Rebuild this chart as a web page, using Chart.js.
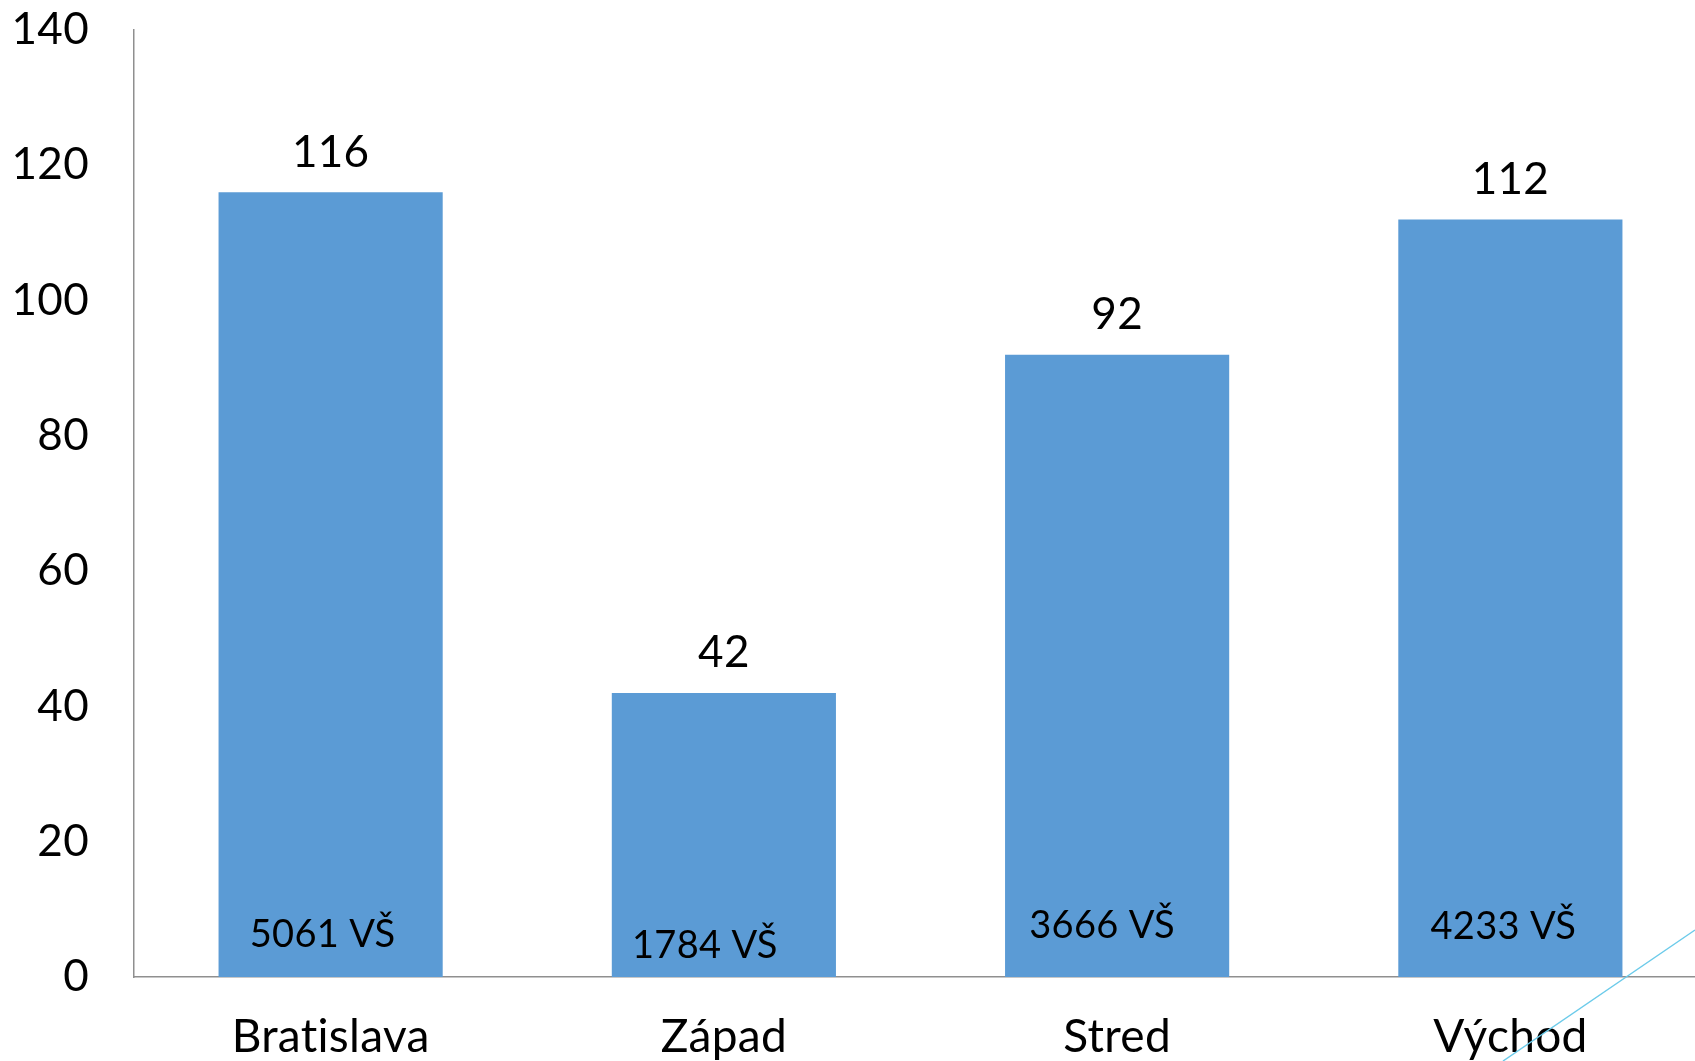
<!DOCTYPE html>
<html>
<head>
<meta charset="utf-8">
<script src="https://cdn.jsdelivr.net/npm/chart.js@4/dist/chart.umd.min.js"></script>
<style>
html, body { margin: 0; padding: 0; background: #fff; overflow: hidden; }
canvas { display: block; }
</style>
</head>
<body>
<canvas id="regionChart" width="1712" height="1061"></canvas>
<script>
let regionNames = ["Bratislava", "Západ", "Stred", "Východ"];
let schoolCounts = [116, 42, 92, 112];
let studentLabels = ["5061 VŠ", "1784 VŠ", "3666 VŠ", "4233 VŠ"];
let axisTicks = [0, 20, 40, 60, 80, 100, 120, 140];

// hand placed text boxes in the original slide: [dx, height above axis]
let innerNudge = [[-8, 42], [-19, 31], [-15, 51], [-7, 50]];

const barText = {
    id: "barText",
    beforeDraw(chart){
        // keep "ti" from turning into a ligature
        chart.ctx.letterSpacing = "0.3px";
    },
    afterDatasetsDraw(chart){
        const ctx = chart.ctx;
        const meta = chart.getDatasetMeta(0);
        const zeroY = chart.scales.y.getPixelForValue(0);
        ctx.save();
        ctx.fillStyle = "#000";
        ctx.textAlign = "center";
        ctx.textBaseline = "middle";
        meta.data.forEach((bar, i) => {
            ctx.font = "44px Lato";
            ctx.fillText(String(schoolCounts[i]), bar.x, bar.y - 40);
            ctx.font = "38px Lato";
            ctx.fillText(studentLabels[i], bar.x + innerNudge[i][0], zeroY - innerNudge[i][1]);
        });
        ctx.restore();
    }
};

// thin decorative line from the slide template
const slideLine = {
    id: "slideLine",
    afterDraw(chart){
        const ctx = chart.ctx;
        ctx.save();
        ctx.strokeStyle = "#6ccbea";
        ctx.lineWidth = 1.5;
        ctx.beginPath();
        ctx.moveTo(1695, 930);
        ctx.lineTo(1503, 1061);
        ctx.stroke();
        ctx.restore();
    }
};

new Chart("regionChart", {
    type: "bar",
    data: {
        labels: regionNames,
        datasets: [{
            backgroundColor: "#5b9bd5",
            data: schoolCounts,
            categoryPercentage: 1,
            barPercentage: 0.57
        }]
    },
    options: {
        responsive: false,
        animation: false,
        devicePixelRatio: 1,
        layout: {
            padding: { left: 13, right: 5, top: 4, bottom: 0 }
        },
        plugins: {
            legend: { display: false },
            tooltip: { enabled: false }
        },
        scales: {
            x: {
                grid: { display: false, drawTicks: false },
                border: { color: "#8f8f8f", width: 1.5 },
                ticks: {
                    color: "#000",
                    padding: 37,
                    font: { family: "Lato", size: 46, lineHeight: 1 }
                },
                afterFit(scale){
                    scale.height = 84;
                    scale.paddingLeft = 0;
                    scale.paddingRight = 0;
                }
            },
            y: {
                min: axisTicks[0],
                max: axisTicks[axisTicks.length - 1],
                grid: { display: false, drawTicks: false },
                border: { color: "#8f8f8f", width: 1.5 },
                ticks: {
                    stepSize: axisTicks[1] - axisTicks[0],
                    color: "#000",
                    padding: 45,
                    font: { family: "Lato", size: 44 }
                },
                afterFit(scale){
                    scale.width = 121;
                    scale.paddingTop = 30;
                    scale.paddingBottom = 26;
                }
            }
        }
    },
    plugins: [barText, slideLine]
});
</script>
</body>
</html>
